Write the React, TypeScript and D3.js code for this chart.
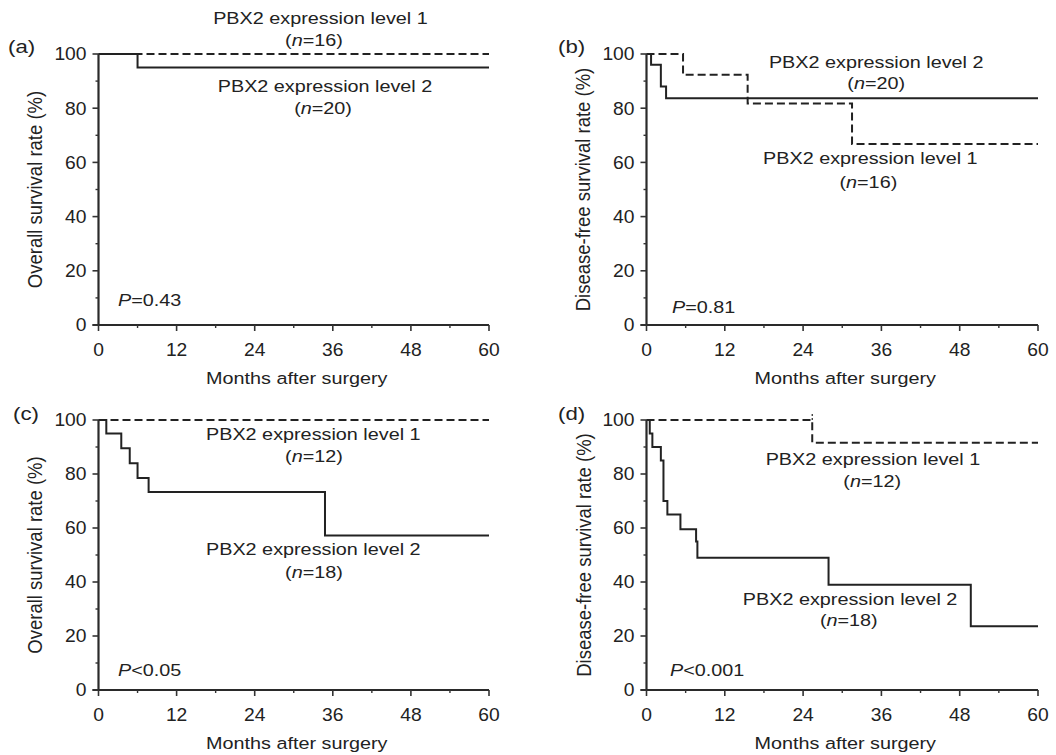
import React from 'react';
import * as d3 from 'd3';

// x ticks (months) and y ticks (%)
const monthTicks = [0, 12, 24, 36, 48, 60];
const monthMinor = [6, 18, 30, 42, 54];
const pctTicks = [0, 20, 40, 60, 80, 100];
const pctMinor = [10, 30, 50, 70, 90];

// Kaplan-Meier drops: [month, survival % after drop]
const aLevel1: [number, number][] = [];
const aLevel2: [number, number][] = [[6, 95]];
const bLevel1: [number, number][] = [[5.6, 92.3], [15.5, 81.7], [31.5, 66.8]];
const bLevel2: [number, number][] = [[0.7, 96], [2.2, 88], [3.0, 83.7]];
const cLevel1: [number, number][] = [];
const cLevel2: [number, number][] = [[1.2, 95], [3.5, 89.5], [4.8, 84], [6.0, 78.5], [7.7, 73.3], [34.8, 57.2]];
const dLevel1: [number, number][] = [[25.4, 91.6]];
const dLevel2: [number, number][] = [
    [0.5, 95], [0.9, 90], [2.2, 85], [2.6, 70], [3.2, 65], [5.2, 59.5],
    [7.6, 55], [7.8, 49], [27.9, 39], [49.7, 23.6],
];
const dCensor1 = [25.4];

const groupNames = ['PBX2 expression level 1', 'PBX2 expression level 2'];
const pValues = ['=0.43', '=0.81', '<0.05', '<0.001'];
const nA = [16, 20];
const nC = [12, 18];

const FONT = '"Liberation Sans", Arial, sans-serif';
const INK = '#222';

const panels = [
    {
        tag: '(a)', tagPos: [8, 52], left: 98.5, right: 489, top: 54, bottom: 325,
        yTitle: 'Overall survival rate (%)', yTitleX: 35,
        curves: [aLevel1, aLevel2], censor: [], n: nA, p: pValues[0],
        // label anchors in data units [month, %]
        labels: [[34.1, 113.3, 33.1, 105.2], [34.8, 88.2, 34.5, 80.1]], pPos: [3.0, 9.2],
    },
    {
        tag: '(b)', tagPos: [558, 52], left: 646.5, right: 1038, top: 54, bottom: 325,
        yTitle: 'Disease-free survival rate (%)', yTitleX: 583,
        curves: [bLevel1, bLevel2], censor: [], n: nA, p: pValues[1],
        labels: [[34.3, 61.6, 34.0, 52.8], [35.2, 97, 35.2, 89.3]], pPos: [3.9, 6.6],
    },
    {
        tag: '(c)', tagPos: [13, 419], left: 98.5, right: 489, top: 420, bottom: 690,
        yTitle: 'Overall survival rate (%)', yTitleX: 35,
        curves: [cLevel1, cLevel2], censor: [], n: nC, p: pValues[2],
        labels: [[33.0, 94.8, 33.1, 86.7], [33.0, 52.2, 33.1, 43.7]], pPos: [3.0, 7.4],
    },
    {
        tag: '(d)', tagPos: [558, 419], left: 646.5, right: 1038, top: 420, bottom: 690,
        yTitle: 'Disease-free survival rate (%)', yTitleX: 584,
        curves: [dLevel1, dLevel2], censor: dCensor1, n: nC, p: pValues[3],
        labels: [[34.7, 85.6, 34.6, 77.4], [31.2, 33.7, 31.0, 25.9]], pPos: [3.6, 7.4],
    },
];

function Label({ x, y, anchor = 'middle', size = 16.5, sx = 1.2, children }: any) {
    return (
        <text
            transform={`translate(${x},${y}) scale(${sx},1)`}
            textAnchor={anchor}
            dy="0.36em"
            fontSize={size}
            fontFamily={FONT}
            fill={INK}
        >
            {children}
        </text>
    );
}

function Panel({ cfg }: any) {
    const x = d3.scaleLinear().domain([0, 60]).range([cfg.left, cfg.right]);
    const y = d3.scaleLinear().domain([0, 100]).range([cfg.bottom, cfg.top]);
    const line = d3
        .line<[number, number]>()
        .x(d => x(d[0]))
        .y(d => y(d[1]))
        .curve(d3.curveStepAfter);

    const stepPoints = (drops: [number, number][]) => {
        const pts: [number, number][] = [[0, 100], ...drops];
        pts.push([60, pts[pts.length - 1][1]]);
        return pts;
    };

    return (
        <g>
            {/* curves */}
            {cfg.curves.map((c: [number, number][], i: number) => (
                <path
                    key={i}
                    d={line(stepPoints(c)) || ''}
                    fill="none"
                    stroke={INK}
                    strokeWidth={2}
                    strokeDasharray={i === 0 ? '8,4' : undefined}
                />
            ))}
            {cfg.censor.map((t: number, i: number) => (
                <line key={'c' + i} x1={x(t)} x2={x(t)} y1={y(100)} y2={y(100) - 6}
                    stroke={INK} strokeWidth={1.2} strokeDasharray="2,2" />
            ))}

            {/* axes */}
            <line x1={x(0)} x2={x(0)} y1={y(100)} y2={y(0)} stroke="#2a2a2a" strokeWidth={2.2} />
            <line x1={x(0) - 6} x2={x(60)} y1={y(0)} y2={y(0)} stroke="#2a2a2a" strokeWidth={2.2} />
            {pctTicks.map(t => (
                <g key={'y' + t}>
                    <line x1={x(0) - 6} x2={x(0)} y1={y(t)} y2={y(t)} stroke="#333" strokeWidth={1.6} />
                    <Label x={x(0) - 12} y={y(t)} anchor="end" size={17.5} sx={1.1}>{t}</Label>
                </g>
            ))}
            {pctMinor.map(t => (
                <line key={'ym' + t} x1={x(0) - 3} x2={x(0)} y1={y(t)} y2={y(t)} stroke="#333" strokeWidth={1.4} />
            ))}
            {monthTicks.map(t => (
                <g key={'x' + t}>
                    <line x1={x(t)} x2={x(t)} y1={y(0)} y2={y(0) + 6} stroke="#333" strokeWidth={1.6} />
                    <Label x={x(t)} y={y(0) + 25} size={17.5} sx={1.1}>{t}</Label>
                </g>
            ))}
            {monthMinor.map(t => (
                <line key={'xm' + t} x1={x(t)} x2={x(t)} y1={y(0)} y2={y(0) + 3} stroke="#333" strokeWidth={1.4} />
            ))}

            {/* titles */}
            <Label x={(cfg.left + cfg.right) / 2 + 3} y={cfg.bottom + 53}>Months after surgery</Label>
            <text
                transform={`translate(${cfg.yTitleX},${(cfg.top + cfg.bottom) / 2}) rotate(-90) scale(1,1.1)`}
                textAnchor="middle"
                dy="0.36em"
                fontSize={18.5}
                fontFamily={FONT}
                fill={INK}
            >
                {cfg.yTitle}
            </text>
            <Label x={cfg.tagPos[0]} y={cfg.tagPos[1] - 6} anchor="start" size={18.5}>{cfg.tag}</Label>

            {/* group labels */}
            {cfg.labels.map((l: number[], i: number) => (
                <g key={'l' + i}>
                    <Label x={x(l[0])} y={y(l[1])}>{groupNames[i]}</Label>
                    <Label x={x(l[2])} y={y(l[3])}>
                        (<tspan fontStyle="italic">n</tspan>={cfg.n[i]})
                    </Label>
                </g>
            ))}
            <Label x={x(cfg.pPos[0])} y={y(cfg.pPos[1])} anchor="start">
                <tspan fontStyle="italic">P</tspan>
                {cfg.p}
            </Label>
        </g>
    );
}

export default function App() {
    return (
        <svg
            width={1056}
            height={755}
            style={{ position: 'absolute', left: 0, top: 0, background: '#fff' }}
        >
            {panels.map(p => (
                <Panel key={p.tag} cfg={p} />
            ))}
        </svg>
    );
}
